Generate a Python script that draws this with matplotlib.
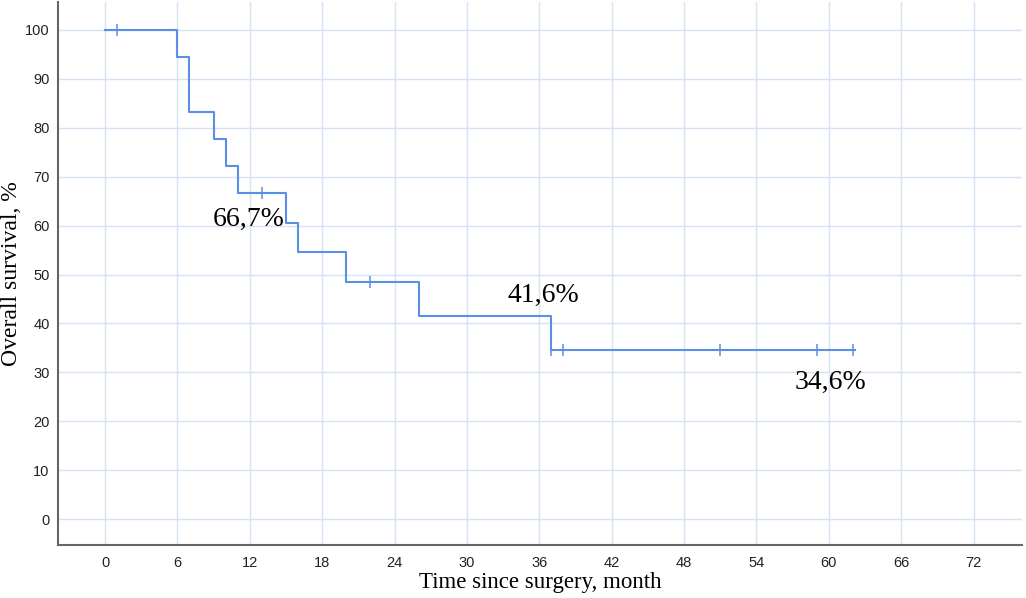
import matplotlib
matplotlib.use("Agg")
import matplotlib.pyplot as plt
import numpy as np

# Kaplan-Meier step data (months, survival %)
step_times = [0, 6, 7, 9, 10, 11, 15, 16, 20, 26, 37, 62.2]
step_surv = [100, 94.4, 83.3, 77.8, 72.2, 66.7, 60.6, 54.5, 48.5, 41.6, 34.6, 34.6]
censor_times = [1, 13, 22, 37, 38, 51, 59, 62]
censor_surv = [100, 66.7, 48.5, 34.6, 34.6, 34.6, 34.6, 34.6]

x_ticks = [0, 6, 12, 18, 24, 30, 36, 42, 48, 54, 60, 66, 72]
y_ticks = [0, 10, 20, 30, 40, 50, 60, 70, 80, 90, 100]

annotations = ["66,7%", "41,6%", "34,6%"]
annot_x = [11.9, 36.3, 60.1]
annot_y = [61.2, 45.8, 28.0]

fig = plt.figure(figsize=(10.26, 5.98), dpi=100)
ax = fig.add_axes([0.0565, 0.0886, 0.9395, 0.908])

line_color = "#5b8ee6"
ax.step(step_times, step_surv, where="post", color=line_color, lw=1.5, zorder=3)
ax.plot(censor_times, censor_surv, ls="none", marker="|", ms=8, mew=1.1,
        color=line_color, zorder=4)

ax.set_xlim(-3.9, 76)
ax.set_ylim(-5.3, 105.7)
ax.set_xticks(x_ticks)
ax.set_yticks(y_ticks)
ax.set_xticklabels([str(v) for v in x_ticks])
ax.set_yticklabels([str(v) for v in y_ticks])
ax.grid(True, color="#d5e3f4", lw=1.0)
ax.set_axisbelow(True)
for s in ["top", "right"]:
    ax.spines[s].set_visible(False)
for s in ["left", "bottom"]:
    ax.spines[s].set_color("#666666")
    ax.spines[s].set_linewidth(1.5)
ax.tick_params(length=0, labelsize=10.5, colors="#222222")
ax.tick_params(axis="x", pad=8)
ax.tick_params(axis="y", pad=6)
for lab in ax.get_xticklabels() + ax.get_yticklabels():
    lab.set_family(["Liberation Sans Narrow", "Liberation Sans", "DejaVu Sans"])

serif = ["Liberation Serif", "DejaVu Serif"]
ax.set_xlabel("Time since surgery, month", family=serif, fontsize=16.5, labelpad=1)
ax.set_ylabel("Overall survival, %", family=serif, fontsize=17, labelpad=2)

for t, x, y in zip(annotations, annot_x, annot_y):
    ax.text(x, y, t, family=serif, fontsize=20, ha="center", va="center")

fig.savefig("out.png", dpi=100)
